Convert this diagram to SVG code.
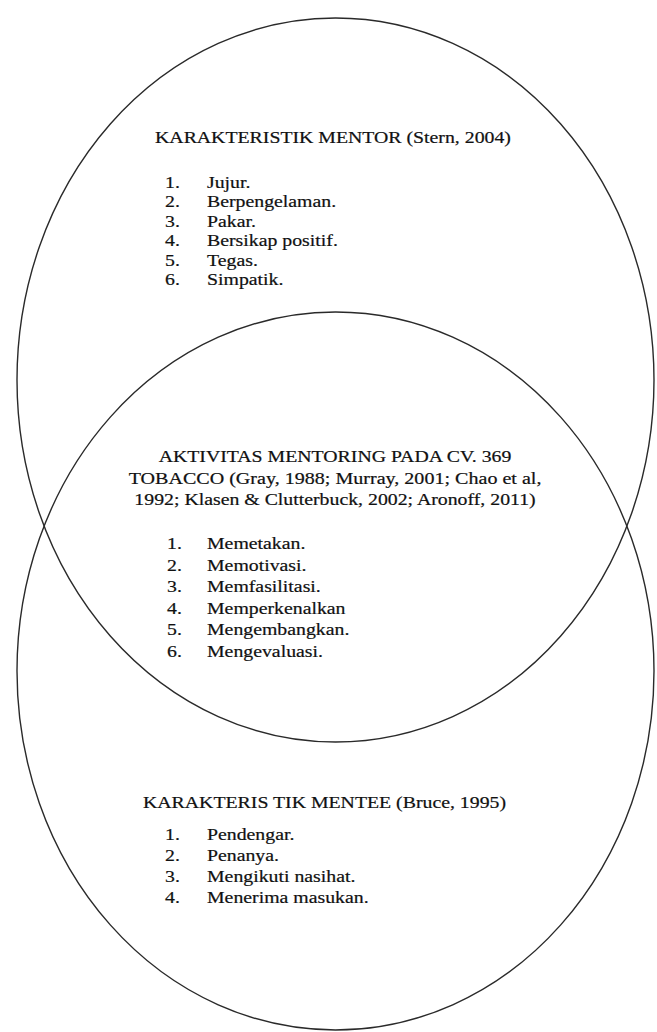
<svg xmlns="http://www.w3.org/2000/svg" width="657" height="1032" viewBox="0 0 657 1032">
  <style>
    .ring { fill: none; stroke: #2a2a2a; stroke-width: 1.4; }
    .t { font-family: "Liberation Serif", "Times New Roman", serif; font-size: 16.5px; fill: #111111; stroke: #111111; stroke-width: 0.2; }
    .c { text-anchor: middle; }
  </style>
  <rect width="657" height="1032" fill="#ffffff"/>
  <g id="mentor">
    <ellipse class="ring" cx="335.5" cy="380" rx="318.5" ry="362"/>
    <g transform="scale(1.2,1)">
      <text class="t" x="129.2" y="143">KARAKTERISTIK MENTOR (Stern, 2004)</text>
      <text class="t" x="137.5" y="188">1.</text><text class="t" x="172.5" y="188">Jujur.</text>
      <text class="t" x="137.5" y="207.5">2.</text><text class="t" x="172.5" y="207.5">Berpengelaman.</text>
      <text class="t" x="137.5" y="227">3.</text><text class="t" x="172.5" y="227">Pakar.</text>
      <text class="t" x="137.5" y="246.5">4.</text><text class="t" x="172.5" y="246.5">Bersikap positif.</text>
      <text class="t" x="137.5" y="266">5.</text><text class="t" x="172.5" y="266">Tegas.</text>
      <text class="t" x="137.5" y="285.5">6.</text><text class="t" x="172.5" y="285.5">Simpatik.</text>
    </g>
  </g>
  <g id="mentee">
    <ellipse class="ring" cx="335.5" cy="671" rx="318.5" ry="359"/>
    <g transform="scale(1.2,1)">
      <text class="t" x="119.2" y="808">KARAKTERIS TIK MENTEE (Bruce, 1995)</text>
      <text class="t" x="137.5" y="840">1.</text><text class="t" x="172.5" y="840">Pendengar.</text>
      <text class="t" x="137.5" y="861">2.</text><text class="t" x="172.5" y="861">Penanya.</text>
      <text class="t" x="137.5" y="882">3.</text><text class="t" x="172.5" y="882">Mengikuti nasihat.</text>
      <text class="t" x="137.5" y="903">4.</text><text class="t" x="172.5" y="903">Menerima masukan.</text>
    </g>
  </g>
  <g id="activity">
    <g transform="scale(1.2,1)">
      <text class="t c" x="279.2" y="462">AKTIVITAS MENTORING PADA CV. 369</text>
      <text class="t c" x="279.2" y="484" textLength="344" lengthAdjust="spacingAndGlyphs">TOBACCO (Gray, 1988; Murray, 2001; Chao et al,</text>
      <text class="t c" x="279.2" y="505">1992; Klasen &amp; Clutterbuck, 2002; Aronoff, 2011)</text>
      <text class="t" x="139.2" y="549.5">1.</text><text class="t" x="172.5" y="549.5">Memetakan.</text>
      <text class="t" x="139.2" y="571">2.</text><text class="t" x="172.5" y="571">Memotivasi.</text>
      <text class="t" x="139.2" y="592.5">3.</text><text class="t" x="172.5" y="592.5">Memfasilitasi.</text>
      <text class="t" x="139.2" y="614">4.</text><text class="t" x="172.5" y="614">Memperkenalkan</text>
      <text class="t" x="139.2" y="635.5">5.</text><text class="t" x="172.5" y="635.5">Mengembangkan.</text>
      <text class="t" x="139.2" y="657">6.</text><text class="t" x="172.5" y="657">Mengevaluasi.</text>
    </g>
  </g>
  <g id="connectors"/>
</svg>
